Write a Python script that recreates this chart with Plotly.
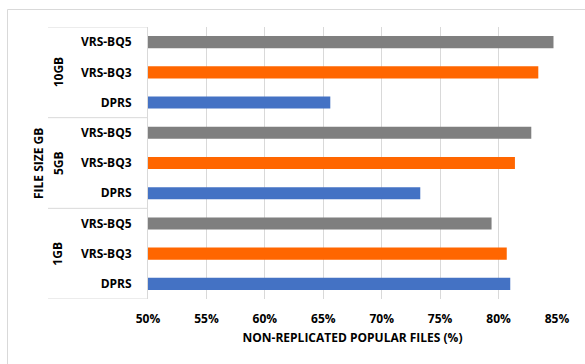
import plotly.graph_objects as go

# File-size groups (bottom to top) and replication strategies within each group
groups = ["1GB", "5GB", "10GB"]
series = ["DPRS", "VRS-BQ3", "VRS-BQ5"]

# Non-replicated popular files (%) per group, ordered as in `groups`
dprs = [81.0, 73.3, 65.6]
vrs_bq3 = [80.7, 81.4, 83.4]
vrs_bq5 = [79.4, 82.8, 84.7]

x_ticks = [50, 55, 60, 65, 70, 75, 80, 85]
x_tick_labels = ["50%", "55%", "60%", "65%", "70%", "75%", "80%", "85%"]

colors = {"DPRS": "#4472C4", "VRS-BQ3": "#FF6600", "VRS-BQ5": "#7F7F7F"}
values = {"DPRS": dprs, "VRS-BQ3": vrs_bq3, "VRS-BQ5": vrs_bq5}

W, H = 585, 364
L, R, T, B = 148, 28, 27, 65
pw, ph = W - L - R, H - T - B

def px_x(p):
    return (p - L) / pw

def px_y(p):
    return (H - B - p) / ph

FONT = "Open Sans"
FS = 12

fig = go.Figure()
for si, name in enumerate(series):
    ys = [gi * len(series) + si for gi in range(len(groups))]
    fig.add_trace(go.Bar(
        x=values[name], y=ys, orientation="h", name=name,
        width=0.4,
        marker=dict(color=colors[name], line=dict(width=0)),
        showlegend=False,
    ))

n = len(groups) * len(series)
tickvals = list(range(n))
ticktext = [s for _ in groups for s in series]

fig.update_layout(
    width=W, height=H,
    margin=dict(l=L, r=R, t=T, b=B, pad=0),
    paper_bgcolor="white", plot_bgcolor="white",
    barmode="overlay",
    font=dict(family=FONT, size=FS, color="#000000", weight="bold"),
    xaxis=dict(
        range=[50, 85], tickvals=x_ticks, ticktext=x_tick_labels,
        showgrid=True, gridcolor="#D9D9D9", gridwidth=1,
        zeroline=False, showline=False, ticks="",
        ticklabelstandoff=11,
        title=dict(text="NON-REPLICATED POPULAR FILES (%)", standoff=7,
                   font=dict(family=FONT, size=FS, weight="bold")),
        fixedrange=True,
    ),
    yaxis=dict(
        range=[-0.5, n - 0.5], tickvals=tickvals, ticktext=ticktext,
        showgrid=False, zeroline=False,
        showline=True, linecolor="#D9D9D9", linewidth=1,
        ticks="", ticklabelstandoff=13,
        fixedrange=True,
    ),
)

# Hierarchical category frame: horizontal dividers between file-size groups
shapes = []
for k in range(len(groups) + 1):
    yv = k * len(series) - 0.5
    shapes.append(dict(type="line", xref="paper", yref="y",
                       x0=px_x(48), x1=0, y0=yv, y1=yv,
                       line=dict(color="#D9D9D9", width=1)))
# Chart outer border
shapes.append(dict(type="rect", xref="paper", yref="paper",
                   x0=px_x(7.5), x1=px_x(600), y0=px_y(380), y1=px_y(9.5),
                   line=dict(color="#D9D9D9", width=1), fillcolor="rgba(0,0,0,0)",
                   layer="below"))
fig.update_layout(shapes=shapes)

annotations = []
for gi, g in enumerate(groups):
    annotations.append(dict(
        text=g, xref="paper", yref="y", x=px_x(58), y=gi * len(series) + 1,
        showarrow=False, textangle=-90, xanchor="center", yanchor="middle",
        font=dict(family=FONT, size=FS, weight="bold"),
    ))
annotations.append(dict(
    text="FILE SIZE GB", xref="paper", yref="paper", x=px_x(38), y=px_y(163),
    showarrow=False, textangle=-90, xanchor="center", yanchor="middle",
    font=dict(family=FONT, size=FS, weight="bold"),
))
fig.update_layout(annotations=annotations)

fig.write_html("out.html")
